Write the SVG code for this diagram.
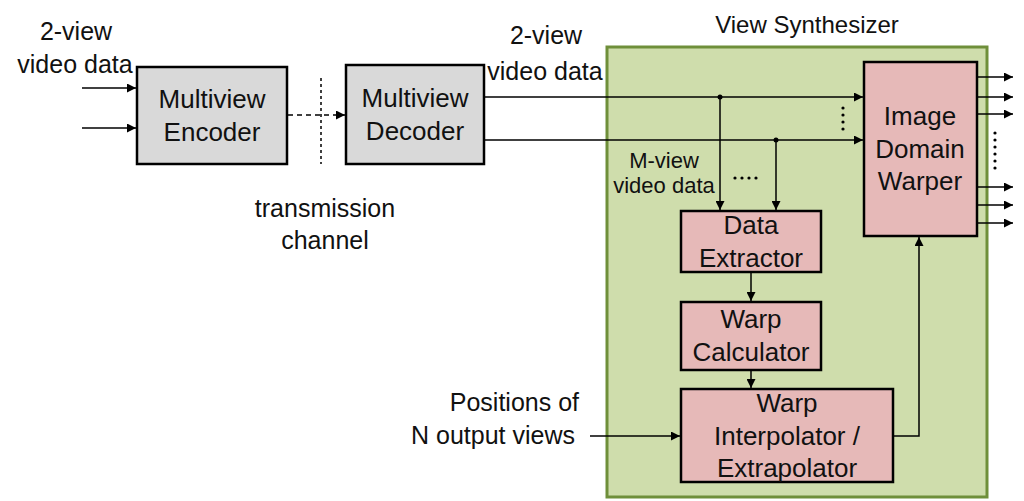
<svg xmlns="http://www.w3.org/2000/svg" width="1024" height="501" viewBox="0 0 1024 501">
<defs>
<marker id="ah" viewBox="0 0 10 10" refX="10" refY="5" markerWidth="9" markerHeight="9" markerUnits="userSpaceOnUse" orient="auto">
<path d="M0,0 L10,5 L0,10 z" fill="#000"/>
</marker>
</defs>
<style>
text{font-family:"Liberation Sans",Arial,sans-serif;fill:#111;font-size:25px}
.bt{font-size:26px;text-anchor:middle}
.c{text-anchor:middle}
.e{text-anchor:end}
.gray{fill:#d9d9d9;stroke:#000;stroke-width:2.5}
.pink{fill:#e6b9b8;stroke:#000;stroke-width:2.5}
.ln{fill:none;stroke:#000;stroke-width:1.5}
.arr{fill:none;stroke:#000;stroke-width:1.5;marker-end:url(#ah)}
.dot{fill:#000}
</style>
<rect width="1024" height="501" fill="#fff"/>
<g id="synth">
<rect x="607" y="47" width="380" height="450" fill="#cfddac" stroke="#6f8f3a" stroke-width="3"/>
<text x="807" y="33" class="c" style="font-size:24px">View Synthesizer</text>
</g>
<g id="labels">
<text x="76" y="40" class="c">2-view</text>
<text x="75" y="73" class="c">video data</text>
<text x="325" y="217" class="c">transmission</text>
<text x="325" y="249" class="c">channel</text>
<text x="546" y="44" class="c">2-view</text>
<text x="545" y="80" class="c">video data</text>
<text x="664" y="168" class="c" style="font-size:22px">M-view</text>
<text x="664" y="193" class="c" style="font-size:22px">video data</text>
<text x="579" y="411" class="e">Positions of</text>
<text x="575" y="444" class="e">N output views</text>
</g>
<g id="encoder">
<rect x="137" y="67" width="150" height="97" class="gray"/>
<text x="212" y="108" class="bt">Multiview</text>
<text x="212" y="141" class="bt">Encoder</text>
</g>
<g id="decoder">
<rect x="346" y="65" width="138" height="99" class="gray"/>
<text x="415" y="107" class="bt">Multiview</text>
<text x="415" y="140" class="bt">Decoder</text>
</g>
<g id="warper">
<rect x="864" y="62" width="113" height="174" class="pink"/>
<text x="920" y="125" class="bt">Image</text>
<text x="920" y="158" class="bt">Domain</text>
<text x="920" y="190" class="bt">Warper</text>
</g>
<g id="extractor">
<rect x="681" y="211" width="140" height="61" class="pink"/>
<text x="751" y="234" class="bt">Data</text>
<text x="751" y="267" class="bt">Extractor</text>
</g>
<g id="calculator">
<rect x="681" y="302" width="140" height="68" class="pink"/>
<text x="751" y="328" class="bt">Warp</text>
<text x="751" y="361" class="bt">Calculator</text>
</g>
<g id="interpolator">
<rect x="681" y="389" width="212" height="93" class="pink"/>
<text x="787" y="412" class="bt">Warp</text>
<text x="787" y="445" class="bt">Interpolator /</text>
<text x="787" y="477" class="bt">Extrapolator</text>
</g>
<g id="connectors">
<line x1="82" y1="88" x2="136" y2="88" class="arr"/>
<line x1="82" y1="128" x2="136" y2="128" class="arr"/>
<line x1="288" y1="115" x2="345" y2="115" class="arr" stroke-dasharray="5,4"/>
<line x1="321" y1="78" x2="321" y2="164" class="ln" stroke-dasharray="3,3" stroke-width="1.2"/>
<line x1="484" y1="97" x2="863" y2="97" class="arr"/>
<line x1="484" y1="140" x2="863" y2="140" class="arr"/>
<circle cx="720" cy="97" r="2.5" class="dot"/>
<circle cx="776" cy="140" r="2.5" class="dot"/>
<line x1="720" y1="97" x2="720" y2="210" class="arr"/>
<line x1="776" y1="140" x2="776" y2="210" class="arr"/>
<line x1="751" y1="272" x2="751" y2="301" class="arr"/>
<line x1="751" y1="370" x2="751" y2="388" class="arr"/>
<line x1="590" y1="436" x2="680" y2="436" class="arr"/>
<polyline points="893,436 919,436 919,237" class="arr"/>
<line x1="977" y1="77" x2="1013" y2="77" class="arr"/>
<line x1="977" y1="97" x2="1013" y2="97" class="arr"/>
<line x1="977" y1="114" x2="1013" y2="114" class="arr"/>
<line x1="977" y1="187" x2="1013" y2="187" class="arr"/>
<line x1="977" y1="205" x2="1013" y2="205" class="arr"/>
<line x1="977" y1="223" x2="1013" y2="223" class="arr"/>
<g class="dot">
<circle cx="843" cy="108" r="1.6"/><circle cx="843" cy="115" r="1.6"/><circle cx="843" cy="122" r="1.6"/><circle cx="843" cy="129" r="1.6"/>
<circle cx="735" cy="178" r="1.6"/><circle cx="742" cy="178" r="1.6"/><circle cx="749" cy="178" r="1.6"/><circle cx="756" cy="178" r="1.6"/>
<circle cx="995" cy="133" r="1.6"/><circle cx="995" cy="140" r="1.6"/><circle cx="995" cy="147" r="1.6"/><circle cx="995" cy="154" r="1.6"/><circle cx="995" cy="161" r="1.6"/><circle cx="995" cy="168" r="1.6"/>
</g>
</g>
</svg>
